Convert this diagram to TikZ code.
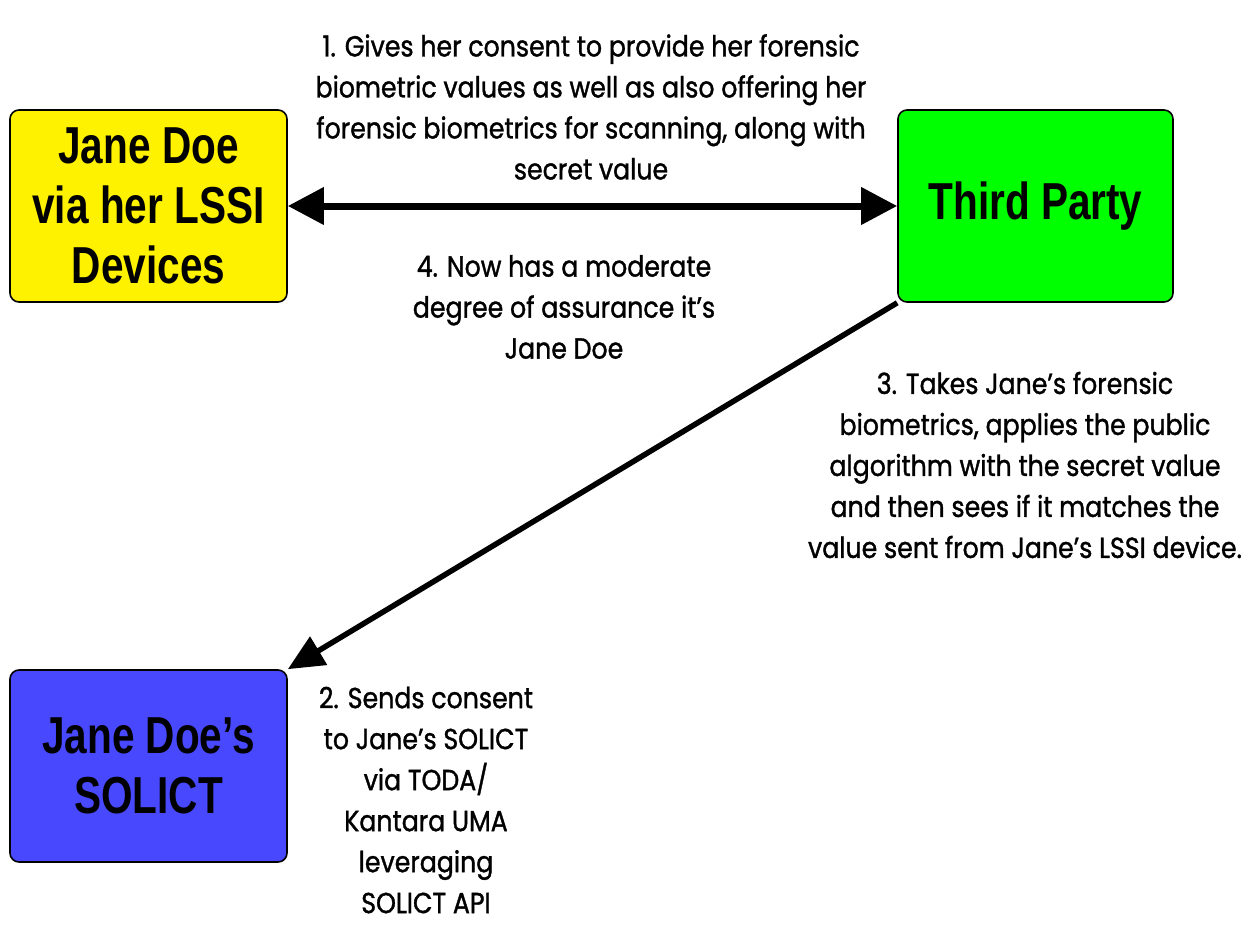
\documentclass[tikz,border=0pt]{standalone}
\usepackage{fontspec}
\usetikzlibrary{arrows.meta}
\newfontfamily\boxfont[FakeStretch=0.78]{Liberation Sans}
\newfontfamily\lblfont[FakeStretch=0.87,FakeBold=1.2]{Poppins}
\definecolor{cyel}{RGB}{255,242,0}
\definecolor{cgrn}{RGB}{0,255,0}
\definecolor{cblu}{RGB}{72,72,255}
\tikzset{
  box/.style={draw=black, line width=1.6pt, rounded corners=9pt, minimum width=277pt, minimum height=192pt, align=center, inner sep=0pt,
    font=\boxfont\bfseries\fontsize{52}{60}\selectfont},
  lbl/.style={align=center, inner sep=0pt, font=\lblfont\fontsize{29}{41}\selectfont},
  conn/.style={line width=7pt, {Triangle[length=36pt,width=36pt]}-{Triangle[length=36pt,width=36pt]}},
  conn2/.style={line width=5.5pt, -{Triangle[length=36pt,width=32pt]}}
}
\begin{document}
\begin{tikzpicture}[x=1pt,y=-1pt]
\useasboundingbox (0,0) rectangle (1250,939);
\node[box, fill=cyel] (jd) at (148.5,206) {Jane Doe\\via her LSSI\\Devices};
\node[box, fill=cgrn, minimum width=275pt] (tp) at (1035.5,206) {Third Party};
\node[box, fill=cblu] (sol) at (148.5,766) {Jane Doe’s\\SOLICT};
\draw[conn] (jd.east) -- (tp.west);
\draw[conn2] (tp.south west) -- (sol.north east);
\node[lbl] (l1) at (591,107) {1. Gives her consent to provide her forensic\\biometric values as well as also offering her\\forensic biometrics for scanning, along with\\secret value};
\node[lbl] (l4) at (564,307) {4. Now has a moderate\\degree of assurance it’s\\Jane Doe};
\node[lbl] (l3) at (1025,465) {3. Takes Jane’s forensic\\biometrics, applies the public\\algorithm with the secret value\\and then sees if it matches the\\value sent from Jane’s LSSI device.};
\node[lbl] (l2) at (426,800) {2. Sends consent\\to Jane’s SOLICT\\via TODA/\\Kantara UMA\\leveraging\\SOLICT API};
\end{tikzpicture}
\end{document}
